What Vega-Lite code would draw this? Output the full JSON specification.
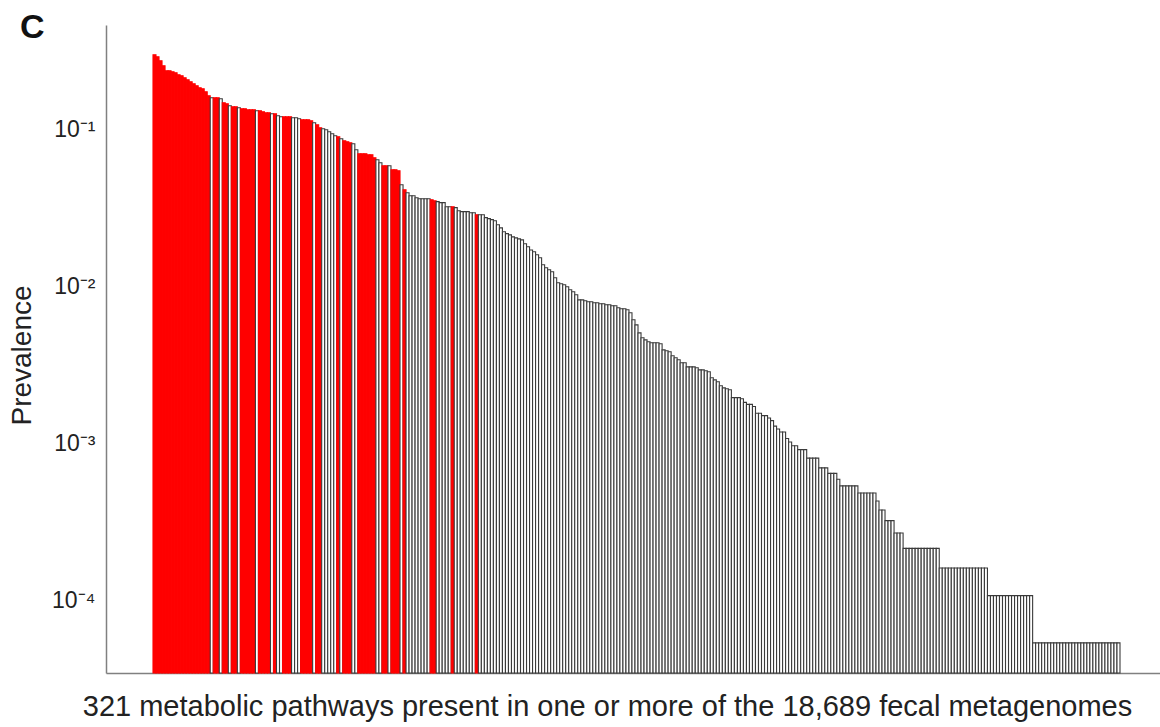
{
"$schema": "https://vega.github.io/schema/vega-lite/v6.json",
"width": 1054, "height": 648,
"autosize": "none",
"padding": {"left": 106, "top": 25, "right": 0, "bottom": 54},
"background": "white",
"title": {"text": "C", "anchor": "start", "frame": "group", "fontSize": 34, "fontWeight": "bold", "font": "Liberation Sans", "color": "#111111", "dx": -86, "dy": 47, "offset": 0, "baseline": "alphabetic"},
"data": {"values": [
{"i":0,"p":0.2975,"c":"red"},{"i":1,"p":0.2890,"c":"red"},{"i":2,"p":0.2725,"c":"red"},{"i":3,"p":0.2533,"c":"red"},{"i":4,"p":0.2353,"c":"red"},
{"i":5,"p":0.2353,"c":"red"},{"i":6,"p":0.2319,"c":"red"},{"i":7,"p":0.2286,"c":"red"},{"i":8,"p":0.2220,"c":"red"},{"i":9,"p":0.2188,"c":"red"},
{"i":10,"p":0.2124,"c":"red"},{"i":11,"p":0.2063,"c":"red"},{"i":12,"p":0.2003,"c":"red"},{"i":13,"p":0.1945,"c":"red"},{"i":14,"p":0.1889,"c":"red"},
{"i":15,"p":0.1834,"c":"red"},{"i":16,"p":0.1807,"c":"red"},{"i":17,"p":0.1730,"c":"red"},{"i":18,"p":0.1631,"c":"red"},{"i":19,"p":0.1584,"c":"black"},
{"i":20,"p":0.1584,"c":"red"},{"i":21,"p":0.1584,"c":"red"},{"i":22,"p":0.1561,"c":"black"},{"i":23,"p":0.1472,"c":"red"},{"i":24,"p":0.1450,"c":"red"},
{"i":25,"p":0.1409,"c":"black"},{"i":26,"p":0.1388,"c":"red"},{"i":27,"p":0.1388,"c":"red"},{"i":28,"p":0.1368,"c":"black"},{"i":29,"p":0.1348,"c":"red"},
{"i":30,"p":0.1348,"c":"red"},{"i":31,"p":0.1328,"c":"red"},{"i":32,"p":0.1328,"c":"red"},{"i":33,"p":0.1328,"c":"red"},{"i":34,"p":0.1309,"c":"black"},
{"i":35,"p":0.1309,"c":"red"},{"i":36,"p":0.1290,"c":"red"},{"i":37,"p":0.1271,"c":"red"},{"i":38,"p":0.1271,"c":"red"},{"i":39,"p":0.1253,"c":"black"},
{"i":40,"p":0.1253,"c":"red"},{"i":41,"p":0.1216,"c":"black"},{"i":42,"p":0.1199,"c":"black"},{"i":43,"p":0.1199,"c":"red"},{"i":44,"p":0.1199,"c":"red"},
{"i":45,"p":0.1199,"c":"red"},{"i":46,"p":0.1181,"c":"black"},{"i":47,"p":0.1181,"c":"black"},{"i":48,"p":0.1164,"c":"black"},{"i":49,"p":0.1147,"c":"red"},
{"i":50,"p":0.1147,"c":"red"},{"i":51,"p":0.1147,"c":"red"},{"i":52,"p":0.1131,"c":"red"},{"i":53,"p":0.1098,"c":"black"},{"i":54,"p":0.1066,"c":"red"},
{"i":55,"p":0.1020,"c":"red"},{"i":56,"p":0.1005,"c":"black"},{"i":57,"p":0.0991,"c":"black"},{"i":58,"p":0.0962,"c":"black"},{"i":59,"p":0.0934,"c":"black"},
{"i":60,"p":0.0907,"c":"black"},{"i":61,"p":0.0894,"c":"red"},{"i":62,"p":0.0868,"c":"black"},{"i":63,"p":0.0843,"c":"red"},{"i":64,"p":0.0831,"c":"red"},
{"i":65,"p":0.0819,"c":"red"},{"i":66,"p":0.0807,"c":"black"},{"i":67,"p":0.0739,"c":"black"},{"i":68,"p":0.0697,"c":"red"},{"i":69,"p":0.0697,"c":"red"},
{"i":70,"p":0.0697,"c":"red"},{"i":71,"p":0.0687,"c":"red"},{"i":72,"p":0.0687,"c":"red"},{"i":73,"p":0.0657,"c":"red"},{"i":74,"p":0.0638,"c":"black"},
{"i":75,"p":0.0611,"c":"black"},{"i":76,"p":0.0584,"c":"red"},{"i":77,"p":0.0584,"c":"red"},{"i":78,"p":0.0584,"c":"black"},{"i":79,"p":0.0551,"c":"red"},
{"i":80,"p":0.0551,"c":"red"},{"i":81,"p":0.0543,"c":"red"},{"i":82,"p":0.0442,"c":"black"},{"i":83,"p":0.0411,"c":"red"},{"i":84,"p":0.0393,"c":"black"},
{"i":85,"p":0.0376,"c":"black"},{"i":86,"p":0.0376,"c":"black"},{"i":87,"p":0.0365,"c":"black"},{"i":88,"p":0.0360,"c":"black"},{"i":89,"p":0.0360,"c":"black"},
{"i":90,"p":0.0360,"c":"black"},{"i":91,"p":0.0360,"c":"black"},{"i":92,"p":0.0355,"c":"red"},{"i":93,"p":0.0350,"c":"red"},{"i":94,"p":0.0345,"c":"black"},
{"i":95,"p":0.0340,"c":"black"},{"i":96,"p":0.0340,"c":"black"},{"i":97,"p":0.0320,"c":"black"},{"i":98,"p":0.0320,"c":"black"},{"i":99,"p":0.0320,"c":"red"},
{"i":100,"p":0.0316,"c":"black"},{"i":101,"p":0.0302,"c":"black"},{"i":102,"p":0.0298,"c":"black"},{"i":103,"p":0.0298,"c":"black"},{"i":104,"p":0.0298,"c":"black"},
{"i":105,"p":0.0293,"c":"black"},{"i":106,"p":0.0293,"c":"black"},{"i":107,"p":0.0285,"c":"red"},{"i":108,"p":0.0285,"c":"black"},{"i":109,"p":0.0285,"c":"black"},
{"i":110,"p":0.0273,"c":"black"},{"i":111,"p":0.0269,"c":"black"},{"i":112,"p":0.0265,"c":"black"},{"i":113,"p":0.0261,"c":"black"},{"i":114,"p":0.0246,"c":"black"},
{"i":115,"p":0.0235,"c":"black"},{"i":116,"p":0.0222,"c":"black"},{"i":117,"p":0.0216,"c":"black"},{"i":118,"p":0.0212,"c":"black"},{"i":119,"p":0.0206,"c":"black"},
{"i":120,"p":0.0203,"c":"black"},{"i":121,"p":0.0200,"c":"black"},{"i":122,"p":0.0197,"c":"black"},{"i":123,"p":0.0186,"c":"black"},{"i":124,"p":0.0178,"c":"black"},
{"i":125,"p":0.0170,"c":"black"},{"i":126,"p":0.01655,"c":"black"},{"i":127,"p":0.01584,"c":"black"},{"i":128,"p":0.01516,"c":"black"},{"i":129,"p":0.01368,"c":"black"},
{"i":130,"p":0.01309,"c":"black"},{"i":131,"p":0.01271,"c":"black"},{"i":132,"p":0.01234,"c":"black"},{"i":133,"p":0.01130,"c":"black"},{"i":134,"p":0.01050,"c":"black"},
{"i":135,"p":0.01035,"c":"black"},{"i":136,"p":0.01020,"c":"black"},{"i":137,"p":0.00991,"c":"black"},{"i":138,"p":0.00948,"c":"black"},{"i":139,"p":0.00921,"c":"black"},
{"i":140,"p":0.00881,"c":"black"},{"i":141,"p":0.00818,"c":"black"},{"i":142,"p":0.00818,"c":"black"},{"i":143,"p":0.00807,"c":"black"},{"i":144,"p":0.00795,"c":"black"},
{"i":145,"p":0.00795,"c":"black"},{"i":146,"p":0.00783,"c":"black"},{"i":147,"p":0.00783,"c":"black"},{"i":148,"p":0.00772,"c":"black"},{"i":149,"p":0.00772,"c":"black"},
{"i":150,"p":0.00761,"c":"black"},{"i":151,"p":0.00761,"c":"black"},{"i":152,"p":0.00750,"c":"black"},{"i":153,"p":0.00750,"c":"black"},{"i":154,"p":0.00728,"c":"black"},
{"i":155,"p":0.00718,"c":"black"},{"i":156,"p":0.00718,"c":"black"},{"i":157,"p":0.00707,"c":"black"},{"i":158,"p":0.00677,"c":"black"},{"i":159,"p":0.00611,"c":"black"},
{"i":160,"p":0.00567,"c":"black"},{"i":161,"p":0.00504,"c":"black"},{"i":162,"p":0.00469,"c":"black"},{"i":163,"p":0.00455,"c":"black"},{"i":164,"p":0.00442,"c":"black"},
{"i":165,"p":0.00436,"c":"black"},{"i":166,"p":0.00436,"c":"black"},{"i":167,"p":0.00436,"c":"black"},{"i":168,"p":0.00430,"c":"black"},{"i":169,"p":0.00393,"c":"black"},
{"i":170,"p":0.00388,"c":"black"},{"i":171,"p":0.00382,"c":"black"},{"i":172,"p":0.00360,"c":"black"},{"i":173,"p":0.00350,"c":"black"},{"i":174,"p":0.00340,"c":"black"},
{"i":175,"p":0.00325,"c":"black"},{"i":176,"p":0.00325,"c":"black"},{"i":177,"p":0.00306,"c":"black"},{"i":178,"p":0.00306,"c":"black"},{"i":179,"p":0.00306,"c":"black"},
{"i":180,"p":0.00302,"c":"black"},{"i":181,"p":0.00293,"c":"black"},{"i":182,"p":0.00293,"c":"black"},{"i":183,"p":0.00289,"c":"black"},{"i":184,"p":0.00285,"c":"black"},
{"i":185,"p":0.00261,"c":"black"},{"i":186,"p":0.00253,"c":"black"},{"i":187,"p":0.00246,"c":"black"},{"i":188,"p":0.00232,"c":"black"},{"i":189,"p":0.00225,"c":"black"},
{"i":190,"p":0.00222,"c":"black"},{"i":191,"p":0.00219,"c":"black"},{"i":192,"p":0.00195,"c":"black"},{"i":193,"p":0.00195,"c":"black"},{"i":194,"p":0.00195,"c":"black"},
{"i":195,"p":0.00192,"c":"black"},{"i":196,"p":0.001819,"c":"black"},{"i":197,"p":0.001766,"c":"black"},{"i":198,"p":0.001766,"c":"black"},{"i":199,"p":0.001712,"c":"black"},
{"i":200,"p":0.001552,"c":"black"},{"i":201,"p":0.001552,"c":"black"},{"i":202,"p":0.001498,"c":"black"},{"i":203,"p":0.001498,"c":"black"},{"i":204,"p":0.001445,"c":"black"},
{"i":205,"p":0.001391,"c":"black"},{"i":206,"p":0.001284,"c":"black"},{"i":207,"p":0.001231,"c":"black"},{"i":208,"p":0.001177,"c":"black"},{"i":209,"p":0.001177,"c":"black"},
{"i":210,"p":0.001070,"c":"black"},{"i":211,"p":0.001017,"c":"black"},{"i":212,"p":0.000963,"c":"black"},{"i":213,"p":0.000963,"c":"black"},{"i":214,"p":0.000910,"c":"black"},
{"i":215,"p":0.000910,"c":"black"},{"i":216,"p":0.000910,"c":"black"},{"i":217,"p":0.000803,"c":"black"},{"i":218,"p":0.000803,"c":"black"},{"i":219,"p":0.000803,"c":"black"},
{"i":220,"p":0.000803,"c":"black"},{"i":221,"p":0.000696,"c":"black"},{"i":222,"p":0.000696,"c":"black"},{"i":223,"p":0.000696,"c":"black"},{"i":224,"p":0.000642,"c":"black"},
{"i":225,"p":0.000642,"c":"black"},{"i":226,"p":0.000642,"c":"black"},{"i":227,"p":0.000589,"c":"black"},{"i":228,"p":0.000535,"c":"black"},{"i":229,"p":0.000535,"c":"black"},
{"i":230,"p":0.000535,"c":"black"},{"i":231,"p":0.000535,"c":"black"},{"i":232,"p":0.000535,"c":"black"},{"i":233,"p":0.000535,"c":"black"},{"i":234,"p":0.000482,"c":"black"},
{"i":235,"p":0.000482,"c":"black"},{"i":236,"p":0.000482,"c":"black"},{"i":237,"p":0.000482,"c":"black"},{"i":238,"p":0.000482,"c":"black"},{"i":239,"p":0.000482,"c":"black"},
{"i":240,"p":0.000428,"c":"black"},{"i":241,"p":0.000375,"c":"black"},{"i":242,"p":0.000375,"c":"black"},{"i":243,"p":0.000321,"c":"black"},{"i":244,"p":0.000321,"c":"black"},
{"i":245,"p":0.000321,"c":"black"},{"i":246,"p":0.000268,"c":"black"},{"i":247,"p":0.000268,"c":"black"},{"i":248,"p":0.000268,"c":"black"},{"i":249,"p":0.000214,"c":"black"},
{"i":250,"p":0.000214,"c":"black"},{"i":251,"p":0.000214,"c":"black"},{"i":252,"p":0.000214,"c":"black"},{"i":253,"p":0.000214,"c":"black"},{"i":254,"p":0.000214,"c":"black"},
{"i":255,"p":0.000214,"c":"black"},{"i":256,"p":0.000214,"c":"black"},{"i":257,"p":0.000214,"c":"black"},{"i":258,"p":0.000214,"c":"black"},{"i":259,"p":0.000214,"c":"black"},
{"i":260,"p":0.000214,"c":"black"},{"i":261,"p":0.0001605,"c":"black"},{"i":262,"p":0.0001605,"c":"black"},{"i":263,"p":0.0001605,"c":"black"},{"i":264,"p":0.0001605,"c":"black"},
{"i":265,"p":0.0001605,"c":"black"},{"i":266,"p":0.0001605,"c":"black"},{"i":267,"p":0.0001605,"c":"black"},{"i":268,"p":0.0001605,"c":"black"},{"i":269,"p":0.0001605,"c":"black"},
{"i":270,"p":0.0001605,"c":"black"},{"i":271,"p":0.0001605,"c":"black"},{"i":272,"p":0.0001605,"c":"black"},{"i":273,"p":0.0001605,"c":"black"},{"i":274,"p":0.0001605,"c":"black"},
{"i":275,"p":0.0001605,"c":"black"},{"i":276,"p":0.0001605,"c":"black"},{"i":277,"p":0.000107,"c":"black"},{"i":278,"p":0.000107,"c":"black"},{"i":279,"p":0.000107,"c":"black"},
{"i":280,"p":0.000107,"c":"black"},{"i":281,"p":0.000107,"c":"black"},{"i":282,"p":0.000107,"c":"black"},{"i":283,"p":0.000107,"c":"black"},{"i":284,"p":0.000107,"c":"black"},
{"i":285,"p":0.000107,"c":"black"},{"i":286,"p":0.000107,"c":"black"},{"i":287,"p":0.000107,"c":"black"},{"i":288,"p":0.000107,"c":"black"},{"i":289,"p":0.000107,"c":"black"},
{"i":290,"p":0.000107,"c":"black"},{"i":291,"p":0.000107,"c":"black"},{"i":292,"p":0.0000535,"c":"black"},{"i":293,"p":0.0000535,"c":"black"},{"i":294,"p":0.0000535,"c":"black"},
{"i":295,"p":0.0000535,"c":"black"},{"i":296,"p":0.0000535,"c":"black"},{"i":297,"p":0.0000535,"c":"black"},{"i":298,"p":0.0000535,"c":"black"},{"i":299,"p":0.0000535,"c":"black"},
{"i":300,"p":0.0000535,"c":"black"},{"i":301,"p":0.0000535,"c":"black"},{"i":302,"p":0.0000535,"c":"black"},{"i":303,"p":0.0000535,"c":"black"},{"i":304,"p":0.0000535,"c":"black"},
{"i":305,"p":0.0000535,"c":"black"},{"i":306,"p":0.0000535,"c":"black"},{"i":307,"p":0.0000535,"c":"black"},{"i":308,"p":0.0000535,"c":"black"},{"i":309,"p":0.0000535,"c":"black"},
{"i":310,"p":0.0000535,"c":"black"},{"i":311,"p":0.0000535,"c":"black"},{"i":312,"p":0.0000535,"c":"black"},{"i":313,"p":0.0000535,"c":"black"},{"i":314,"p":0.0000535,"c":"black"},
{"i":315,"p":0.0000535,"c":"black"},{"i":316,"p":0.0000535,"c":"black"},{"i":317,"p":0.0000535,"c":"black"},{"i":318,"p":0.0000535,"c":"black"},{"i":319,"p":0.0000535,"c":"black"},
{"i":320,"p":0.0000535,"c":"black"}
]},
"mark": {"type": "bar", "strokeWidth": 1.1, "width": 3.0125},
"encoding": {
  "x": {"field": "i", "type": "quantitative",
    "scale": {"domain": [-16.1, 333.78], "nice": false, "zero": false, "padding": 0},
    "axis": {"labels": false, "ticks": false, "grid": false, "title": "321 metabolic pathways present in one or more of the 18,689 fecal metagenomes",
      "titleFont": "Liberation Sans", "titleFontSize": 29, "titleFontWeight": "normal", "titleColor": "#222222",
      "titleX": 501, "titleY": 33, "titleBaseline": "middle", "titleAlign": "center",
      "domainColor": "#808080", "domainWidth": 1.5}},
  "y": {"field": "p", "type": "quantitative",
    "scale": {"type": "log", "domain": [0.0000344, 0.46]},
    "axis": {"values": [0.0001, 0.001, 0.01, 0.1], "grid": false, "ticks": false,
      "labelExpr": "datum.value > 0.05 ? '10⁻¹' : datum.value > 0.005 ? '10⁻²' : datum.value > 0.0005 ? '10⁻³' : '10⁻⁴'",
      "labelFont": "Liberation Sans", "labelFontSize": 23, "labelColor": "#222222", "labelPadding": 11,
      "title": "Prevalence", "titleFont": "Liberation Sans", "titleFontSize": 28, "titleFontWeight": "normal", "titleColor": "#222222",
      "titleX": -84, "titleY": 330, "titleBaseline": "middle", "titleAlign": "center", "titleAngle": 270,
      "domainColor": "#808080", "domainWidth": 1.5}},
  "y2": {"datum": 0.0000344},
  "fill": {"field": "c", "type": "nominal", "scale": {"domain": ["red", "black"], "range": ["#ff0000", "#ffffff"]}, "legend": null},
  "stroke": {"field": "c", "type": "nominal", "scale": {"domain": ["red", "black"], "range": ["#ff0000", "#3a3a3a"]}, "legend": null}
},
"config": {"view": {"stroke": null}}
}
